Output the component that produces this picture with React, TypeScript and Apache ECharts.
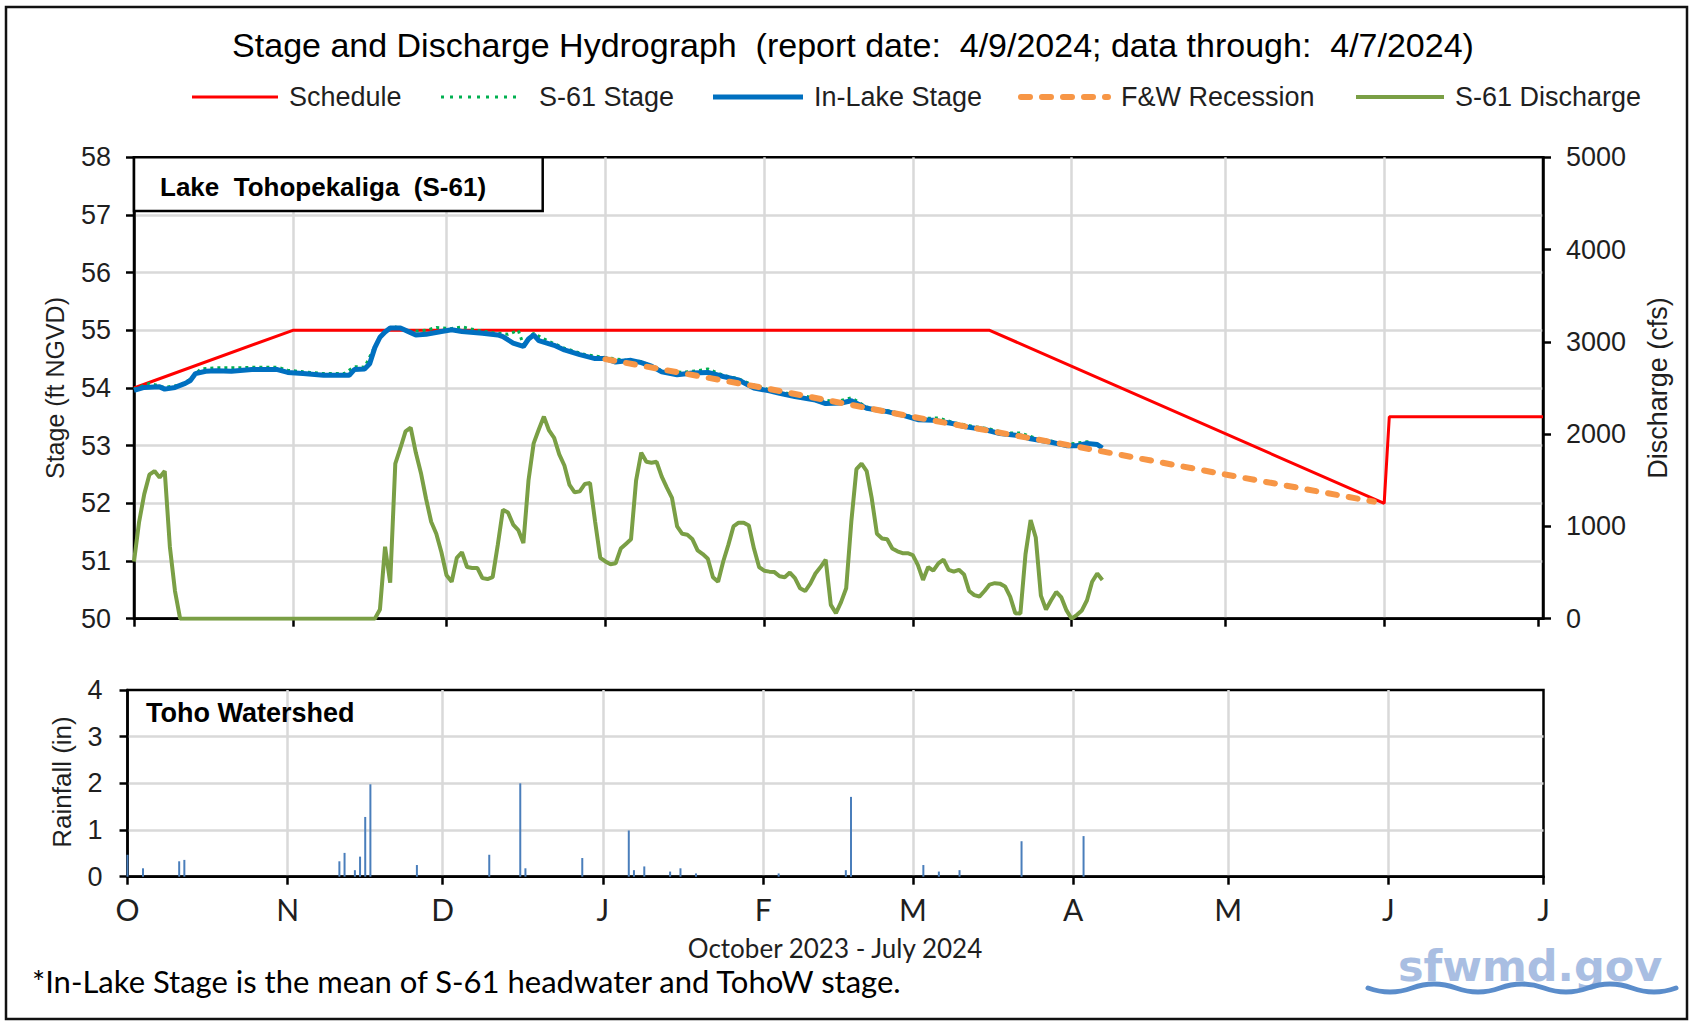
import React, { useEffect, useRef } from "react";
import * as echarts from "echarts";

// ---------- time helpers (days since 2023-10-01) ----------
const START = Date.UTC(2023, 9, 1);
const dayOf = (iso: string) => Math.round((Date.parse(iso + "T00:00:00Z") - START) / 86400000);

const monthStartDates = [
  "2023-10-01", "2023-11-01", "2023-12-01", "2024-01-01", "2024-02-01",
  "2024-03-01", "2024-04-01", "2024-05-01", "2024-06-01", "2024-07-01",
];
const monthLetters = ["O", "N", "D", "J", "F", "M", "A", "M", "J", "J"];
const monthStarts = monthStartDates.map(dayOf);

// ---------- data ----------
// Regulation schedule (ft NGVD)
const scheduleDays = [0, 31, 167, 244, 245, 275];
const scheduleStage = [54.0, 55.0, 55.0, 52.0, 53.5, 53.5];

// F&W recession (ft NGVD)
const recessionDays = [92, 123, 152, 183, 213, 242];
const recessionStage = [54.5, 54.0, 53.5, 53.0, 52.5, 52.03];

// In-Lake stage (ft NGVD)
const inLakeDays = [
  0, 2, 5, 6, 8, 10, 11, 12, 14, 16, 19, 23, 28, 30, 33, 37, 42, 43, 45, 46, 47, 48, 49, 50,
  52, 54, 55, 57, 60, 62, 64, 68, 71, 72, 74, 76, 77, 78, 79, 82, 84, 87, 90, 92, 94, 97, 99,
  101, 103, 106, 109, 112, 115, 118, 121, 124, 126, 129, 133, 135, 138, 140, 143, 147, 150,
  153, 156, 160, 162, 166, 169, 173, 175, 179, 182, 184, 186, 188, 189,
];
const inLakeStage = [
  53.96, 54.01, 54.02, 53.98, 54.01, 54.08, 54.13, 54.25, 54.29, 54.3, 54.29, 54.32, 54.32,
  54.27, 54.25, 54.22, 54.22, 54.32, 54.33, 54.42, 54.7, 54.88, 54.97, 55.04, 55.04, 54.96,
  54.92, 54.93, 54.98, 55.01, 54.98, 54.95, 54.92, 54.89, 54.78, 54.72, 54.85, 54.92, 54.82,
  54.74, 54.66, 54.58, 54.51, 54.51, 54.45, 54.48, 54.44, 54.38, 54.28, 54.23, 54.26, 54.27,
  54.2, 54.14, 54.0, 53.95, 53.91, 53.85, 53.79, 53.73, 53.74, 53.78, 53.65, 53.59, 53.53,
  53.45, 53.44, 53.38, 53.33, 53.28, 53.21, 53.17, 53.12, 53.06, 53.0, 53.0, 53.04, 53.02, 52.96,
];

// S-61 headwater stage (ft NGVD)
const s61Days = [
  0, 3, 6, 9, 11, 13, 16, 20, 24, 28, 30, 33, 37, 41, 43, 45, 47, 49, 51, 54, 57, 59, 62, 64,
  67, 70, 73, 75, 76, 78, 80, 84, 88, 92, 96, 99, 103, 107, 110, 112, 115, 118, 120, 124, 128,
  131, 134, 137, 140, 143, 147, 150, 153, 157, 160, 164, 167, 170, 173, 176, 179, 182, 186, 189,
];
const s61Stage = [
  53.98, 54.08, 54.01, 54.05, 54.15, 54.33, 54.35, 54.35, 54.36, 54.36, 54.31, 54.28, 54.25,
  54.25, 54.37, 54.36, 54.72, 55.0, 55.06, 54.98, 55.0, 55.05, 55.03, 55.06, 55.0, 54.96,
  54.93, 55.0, 54.75, 54.95, 54.85, 54.69, 54.58, 54.53, 54.48, 54.46, 54.3, 54.27, 54.3,
  54.33, 54.22, 54.16, 54.08, 53.97, 53.9, 53.86, 53.8, 53.76, 53.83, 53.67, 53.61, 53.55,
  53.47, 53.48, 53.4, 53.33, 53.29, 53.22, 53.22, 53.13, 53.08, 53.02, 53.07, 52.98,
];

// S-61 discharge (cfs)
const dischargeDays = [
  0, 1, 2, 3, 4, 5, 6, 7, 8, 9, 47, 48, 49, 50, 51, 52, 53, 54, 55, 56, 57, 58, 59, 60, 61,
  62, 63, 64, 65, 66, 67, 68, 69, 70, 71, 72, 73, 74, 75, 76, 77, 78, 79, 80, 81, 82, 83, 84,
  85, 86, 87, 88, 89, 90, 91, 92, 93, 94, 95, 96, 97, 98, 99, 100, 101, 102, 103, 104, 105,
  106, 107, 108, 109, 110, 111, 112, 113, 114, 115, 116, 117, 118, 119, 120, 121, 122, 123,
  124, 125, 126, 127, 128, 129, 130, 131, 132, 133, 134, 135, 136, 137, 138, 139, 140, 141,
  142, 143, 144, 145, 146, 147, 148, 149, 150, 151, 152, 153, 154, 155, 156, 157, 158, 159,
  160, 161, 162, 163, 164, 165, 166, 167, 168, 169, 170, 171, 172, 173, 174, 175, 176, 177,
  178, 179, 180, 181, 182, 183, 184, 185, 186, 187, 188, 189,
];
const dischargeCfs = [
  620, 1050, 1350, 1560, 1600, 1530, 1600, 780, 300, 0, 0, 100, 780, 390, 1680, 1850, 2030,
  2070, 1800, 1580, 1300, 1050, 920, 720, 470, 400, 660, 720, 560, 550, 550, 440, 430, 450,
  800, 1180, 1150, 1020, 960, 820, 1500, 1900, 2050, 2190, 2040, 1960, 1780, 1660, 1450, 1370,
  1380, 1460, 1470, 1050, 660, 620, 590, 600, 760, 810, 860, 1500, 1800, 1700, 1690, 1700,
  1540, 1420, 1310, 1000, 920, 910, 860, 740, 700, 650, 450, 400, 620, 800, 1000, 1040, 1040,
  1010, 760, 560, 520, 510, 505, 460, 450, 500, 440, 330, 300, 380, 490, 560, 640, 150, 60,
  180, 330, 1050, 1620, 1680, 1600, 1300, 920, 870, 860, 760, 730, 710, 710, 690, 580, 420,
  560, 520, 600, 640, 530, 510, 530, 480, 300, 255, 240, 300, 370, 385, 380, 350, 240, 60, 55,
  700, 1070, 880, 250, 100, 200, 290, 230, 90, 0, 40, 90, 200, 400, 490, 420,
];

// Toho watershed rainfall (in)
const rainDays = [
  0, 3, 10, 11, 41, 42, 44, 45, 46, 47, 56, 70, 76, 77, 88, 97, 98, 100, 105, 107, 110, 126,
  139, 140, 154, 157, 161, 173, 185,
];
const rainInches = [
  0.47, 0.18, 0.33, 0.36, 0.33, 0.51, 0.14, 0.43, 1.28, 1.98, 0.25, 0.47, 2.0, 0.18, 0.4, 0.99,
  0.14, 0.22, 0.11, 0.18, 0.07, 0.07, 0.14, 1.71, 0.25, 0.11, 0.14, 0.76, 0.87,
];

const stageTicks = { min: 50, max: 58, step: 1 };
const dischargeTicks = { min: 0, max: 5000, step: 1000 };
const rainTicks = { min: 0, max: 4, step: 1 };

// ---------- styling ----------
const ARIAL = '"Liberation Sans", Arial, Helvetica, sans-serif';
const CAL = 'Lato, "Open Sans", sans-serif';
const GRID_GRAY = "#D9D9D9";
const TXT = "#1f1f1f";

const C_SCHED = "#FF0000";
const C_S61 = "#00B050";
const C_LAKE = "#0070C0";
const C_FW = "#F79646";
const C_Q = "#7A9F45";

const zip = (xs: number[], ys: number[]) => xs.map((x, i) => [x, ys[i]]);

echarts.graphic.registerShape(
  "sfwave",
  echarts.graphic.extendPath("M0 0 Q22 8 44 0 T88 0 T132 0 T176 0 T220 0 T264 0 T308 0", {})
);

const axisLineStyle = { color: "#000", width: 2.5 };

// legend entries drawn as graphics: [label, color, width, dash, lineX0, lineX1, textX]
const legendItems: [string, string, number, number[] | null, number, number, number][] = [
  ["Schedule", C_SCHED, 3, null, 192, 278, 289],
  ["S-61 Stage", C_S61, 3, [3, 6], 441, 520, 539],
  ["In-Lake Stage", C_LAKE, 5, null, 713, 803, 814],
  ["F&W Recession", C_FW, 6, [9, 12], 1021, 1108, 1121],
  ["S-61 Discharge", C_Q, 4, null, 1356, 1444, 1455],
];

function legendGraphics() {
  const out: any[] = [];
  const y = 97;
  legendItems.forEach(([label, color, w, dash, x0, x1, tx]) => {
    out.push({
      type: "line", z: 100,
      shape: { x1: x0, y1: y, x2: x1, y2: y },
      style: { stroke: color, lineWidth: w, lineDash: dash || undefined, lineCap: dash && w >= 5 ? "round" : "butt" },
    });
    out.push({
      type: "text", x: tx, y, z: 100,
      style: { text: label, fontSize: 27, fontFamily: ARIAL, fill: TXT, textAlign: "left", textVerticalAlign: "middle" },
    });
  });
  return out;
}

function buildOption(): any {
  return {
    animation: false,
    backgroundColor: "#ffffff",
    textStyle: { fontFamily: ARIAL },
    grid: [
      {
        left: 134, top: 157.3, width: 1409, height: 461.4,
        show: true, borderColor: "#000", borderWidth: 2.5, backgroundColor: "transparent",
        outerBoundsMode: "none",
      },
      {
        left: 127.5, top: 690, width: 1416, height: 186.7,
        show: true, borderColor: "#000", borderWidth: 2.5, backgroundColor: "transparent",
        outerBoundsMode: "none",
      },
    ],
    xAxis: [
      {
        type: "value", gridIndex: 0, min: 0, max: 275,
        axisLine: { show: true, onZero: false, lineStyle: axisLineStyle },
        axisTick: { show: true, customValues: monthStarts, length: 8, lineStyle: axisLineStyle },
        axisLabel: { show: false },
        splitLine: { show: true, showMinLine: false, showMaxLine: false, lineStyle: { color: GRID_GRAY, width: 2.5 } },
      },
      {
        type: "value", gridIndex: 1, min: 0, max: 274,
        axisLine: { show: true, onZero: false, lineStyle: axisLineStyle },
        axisTick: { show: true, customValues: monthStarts, length: 8, lineStyle: axisLineStyle },
        axisLabel: {
          show: true, customValues: monthStarts, margin: 17,
          fontSize: 30, fontFamily: CAL, color: TXT,
          formatter: (v: number) => {
            const i = monthStarts.indexOf(Math.round(v));
            return i >= 0 ? monthLetters[i] : "";
          },
        },
        splitLine: { show: true, showMinLine: false, showMaxLine: false, lineStyle: { color: GRID_GRAY, width: 2.5 } },
      },
    ],
    yAxis: [
      {
        type: "value", gridIndex: 0, position: "left",
        min: stageTicks.min, max: stageTicks.max, interval: stageTicks.step,
        axisLine: { show: true, onZero: false, lineStyle: axisLineStyle },
        axisTick: { show: true, length: 8, lineStyle: axisLineStyle },
        axisLabel: { fontSize: 27, margin: 23, color: TXT, fontFamily: ARIAL },
        splitLine: { show: true, showMinLine: false, showMaxLine: false, lineStyle: { color: GRID_GRAY, width: 2.5 } },
      },
      {
        type: "value", gridIndex: 0, position: "right",
        min: dischargeTicks.min, max: dischargeTicks.max, interval: dischargeTicks.step,
        axisLine: { show: true, onZero: false, lineStyle: axisLineStyle },
        axisTick: { show: true, length: 8, lineStyle: axisLineStyle },
        axisLabel: { fontSize: 27, margin: 23, color: TXT, fontFamily: ARIAL, formatter: (v: number) => String(v) },
        splitLine: { show: false },
      },
      {
        type: "value", gridIndex: 1, position: "left",
        min: rainTicks.min, max: rainTicks.max, interval: rainTicks.step,
        axisLine: { show: true, onZero: false, lineStyle: axisLineStyle },
        axisTick: { show: true, length: 8, lineStyle: axisLineStyle },
        axisLabel: { fontSize: 27, margin: 25, color: TXT, fontFamily: ARIAL },
        splitLine: { show: true, showMinLine: false, showMaxLine: false, lineStyle: { color: GRID_GRAY, width: 2.5 } },
      },
    ],
    series: [
      {
        name: "S-61 Discharge", type: "line", xAxisIndex: 0, yAxisIndex: 1,
        data: zip(dischargeDays, dischargeCfs), symbol: "none", z: 2,
        itemStyle: { color: C_Q },
        lineStyle: { color: C_Q, width: 4 },
      },
      {
        name: "Schedule", type: "line", xAxisIndex: 0, yAxisIndex: 0,
        data: zip(scheduleDays, scheduleStage), symbol: "none", z: 3,
        itemStyle: { color: C_SCHED },
        lineStyle: { color: C_SCHED, width: 3 },
      },
      {
        name: "S-61 Stage", type: "line", xAxisIndex: 0, yAxisIndex: 0,
        data: zip(s61Days, s61Stage), symbol: "none", z: 4,
        itemStyle: { color: C_S61 },
        lineStyle: { color: C_S61, width: 3, type: [3, 4] },
      },
      {
        name: "In-Lake Stage", type: "line", xAxisIndex: 0, yAxisIndex: 0,
        data: zip(inLakeDays, inLakeStage), symbol: "none", z: 5,
        itemStyle: { color: C_LAKE },
        lineStyle: { color: C_LAKE, width: 5 },
      },
      {
        name: "F&W Recession", type: "line", xAxisIndex: 0, yAxisIndex: 0,
        data: zip(recessionDays, recessionStage), symbol: "none", z: 6,
        itemStyle: { color: C_FW },
        lineStyle: { color: C_FW, width: 6, type: [9, 12], cap: "round" },
      },
      {
        name: "Rainfall", type: "bar", xAxisIndex: 1, yAxisIndex: 2,
        data: zip(rainDays, rainInches), barWidth: 2,
        itemStyle: { color: "#4A7EBB" },
      },
    ],
    graphic: [
      {
        type: "text", x: 853, y: 45, z: 100,
        style: {
          text: "Stage and Discharge Hydrograph  (report date:  4/9/2024; data through:  4/7/2024)",
          fontSize: 34, fontFamily: ARIAL, fill: "#000",
          textAlign: "center", textVerticalAlign: "middle",
        },
      },
      ...legendGraphics(),
      {
        type: "text", x: 55, y: 388, rotation: Math.PI / 2, z: 100,
        style: { text: "Stage (ft NGVD)", fontSize: 25, fontFamily: ARIAL, fill: TXT, textAlign: "center", textVerticalAlign: "middle" },
      },
      {
        type: "text", x: 1658, y: 388, rotation: Math.PI / 2, z: 100,
        style: { text: "Discharge (cfs)", fontSize: 27, fontFamily: ARIAL, fill: TXT, textAlign: "center", textVerticalAlign: "middle" },
      },
      {
        type: "text", x: 62, y: 782, rotation: Math.PI / 2, z: 100,
        style: { text: "Rainfall (in)", fontSize: 26, fontFamily: ARIAL, fill: TXT, textAlign: "center", textVerticalAlign: "middle" },
      },
      {
        type: "rect", z: 100,
        shape: { x: 134, y: 157.3, width: 408.7, height: 53.7 },
        style: { fill: "#fff", stroke: "#000", lineWidth: 2.5 },
      },
      {
        type: "text", x: 160, y: 187, z: 101,
        style: { text: "Lake  Tohopekaliga  (S-61)", fontSize: 26, fontWeight: "bold", fontFamily: ARIAL, fill: "#000", textAlign: "left", textVerticalAlign: "middle" },
      },
      {
        type: "text", x: 146, y: 713, z: 101,
        style: { text: "Toho Watershed", fontSize: 27, fontWeight: "bold", fontFamily: ARIAL, fill: "#000", textAlign: "left", textVerticalAlign: "middle" },
      },
      {
        type: "text", x: 835, y: 948, z: 100,
        style: { text: "October 2023 - July 2024", fontSize: 26, fontFamily: CAL, fill: TXT, textAlign: "center", textVerticalAlign: "middle" },
      },
      {
        type: "text", x: 32, y: 981, z: 100,
        style: { text: "*In-Lake Stage is the mean of S-61 headwater and TohoW stage.", fontSize: 31, fontFamily: CAL, fill: "#000", textAlign: "left", textVerticalAlign: "middle" },
      },
      {
        type: "text", x: 1398, y: 966, z: 100,
        style: { text: "sfwmd.gov", fontSize: 43, fontWeight: "bold", fontFamily: '"DejaVu Sans", sans-serif', fill: "#A9BEE2", textAlign: "left", textVerticalAlign: "middle" },
      },
      {
        type: "sfwave", x: 1368, y: 988, z: 101,
        style: { fill: "none", stroke: "#5B8DCB", lineWidth: 5, lineCap: "round" },
      },
      {
        type: "rect", z: 100,
        shape: { x: 6, y: 7, width: 1681, height: 1012 },
        style: { fill: "none", stroke: "#111", lineWidth: 2.5 },
      },
    ],
  };
}

export default function App() {
  const ref = useRef<HTMLDivElement>(null);
  useEffect(() => {
    if (!ref.current) return;
    const chart = echarts.init(ref.current, null, { renderer: "svg", width: 1690, height: 1021 });
    chart.setOption(buildOption());
    return () => chart.dispose();
  }, []);
  return (
    <div
      ref={ref}
      style={{ position: "fixed", left: 0, top: 0, width: 1690, height: 1021, background: "#fff" }}
    />
  );
}
